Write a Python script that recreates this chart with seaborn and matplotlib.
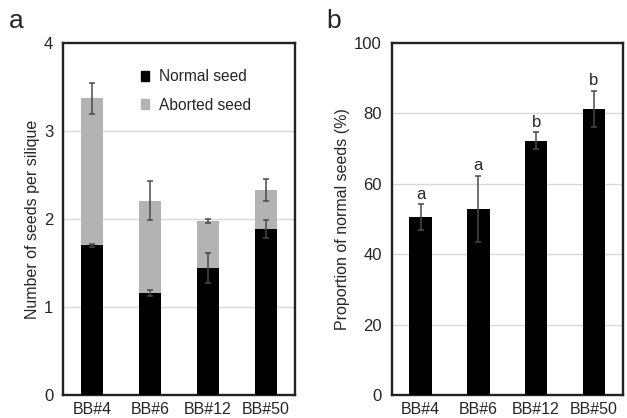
import matplotlib
matplotlib.use('Agg')
import matplotlib.pyplot as plt
from matplotlib.patches import Patch
import seaborn as sns
import pandas as pd

# Data
lines = ['BB#4', 'BB#6', 'BB#12', 'BB#50']
normal_seed = [1.70, 1.16, 1.44, 1.89]
normal_err = [0.02, 0.03, 0.17, 0.10]
total_seed = [3.37, 2.21, 1.975, 2.33]
total_err = [0.18, 0.22, 0.02, 0.12]
proportion = [50.6, 52.8, 72.2, 81.3]
proportion_err = [3.6, 9.4, 2.4, 5.1]
letters = ['a', 'a', 'b', 'b']

seed_df = pd.DataFrame({'line': lines, 'normal': normal_seed, 'total': total_seed})
prop_df = pd.DataFrame({'line': lines, 'prop': proportion})

sns.set_style('white')
plt.rcParams['font.family'] = ['Liberation Sans', 'DejaVu Sans']

fig = plt.figure(figsize=(6.27, 4.18), dpi=100)
ax1 = fig.add_axes([0.1005, 0.055, 0.370, 0.842])
ax2 = fig.add_axes([0.6247, 0.055, 0.3684, 0.842])

err_style = dict(fmt='none', ecolor='#4a4a4a', elinewidth=1.1, capsize=2, capthick=1.1, zorder=4)

# Panel a: stacked bars (total in grey, normal seed in black on top)
sns.barplot(data=seed_df, x='line', y='total', color='#b3b3b3', width=0.39,
            errorbar=None, ax=ax1, zorder=2, saturation=1, linewidth=0)
sns.barplot(data=seed_df, x='line', y='normal', color='black', width=0.39,
            errorbar=None, ax=ax1, zorder=3, saturation=1, linewidth=0)
ax1.errorbar(range(len(lines)), total_seed, yerr=total_err, **err_style)
ax1.errorbar(range(len(lines)), normal_seed, yerr=normal_err, **err_style)
ax1.set_ylim(0, 4)
ax1.set_yticks([0, 1, 2, 3, 4])
ax1.set_ylabel('Number of seeds per silique', fontsize=11.5, labelpad=3)
ax1.legend(handles=[Patch(color='black', label='Normal seed'),
                    Patch(color='#b3b3b3', label='Aborted seed')],
           loc='upper left', bbox_to_anchor=(0.275, 0.965), frameon=False,
           handlelength=0.55, handleheight=0.55, handletextpad=0.6,
           labelspacing=0.85, fontsize=11.2)

# Panel b: proportion of normal seeds
sns.barplot(data=prop_df, x='line', y='prop', color='black', width=0.39,
            errorbar=None, ax=ax2, zorder=3, saturation=1, linewidth=0)
ax2.errorbar(range(len(lines)), proportion, yerr=proportion_err, **err_style)
for i, (v, e, t) in enumerate(zip(proportion, proportion_err, letters)):
    ax2.text(i, v + e + 1.6, t, ha='center', va='baseline', fontsize=12)
ax2.set_ylim(0, 100)
ax2.set_yticks([0, 20, 40, 60, 80, 100])
ax2.set_ylabel('Proportion of normal seeds (%)', fontsize=11.5, labelpad=3)

for ax, grid in [(ax1, [1, 2, 3]), (ax2, [20, 40, 60, 80])]:
    for g in grid:
        ax.axhline(g, color='#d9d9d9', lw=1, zorder=1)
    ax.set_xlim(-0.5, 3.5)
    ax.set_xlabel('')
    ax.tick_params(axis='x', length=0, pad=5, labelsize=11.5)
    ax.tick_params(axis='y', length=0, pad=7, labelsize=12)
    for sp in ax.spines.values():
        sp.set_visible(True)
        sp.set_color('#222222')
        sp.set_linewidth(1.7)

fig.text(9 / 627, 1 - 28 / 418, 'a', fontsize=19, va='baseline')
fig.text(326 / 627, 1 - 28 / 418, 'b', fontsize=19, va='baseline')

fig.savefig('out.png', dpi=100)
